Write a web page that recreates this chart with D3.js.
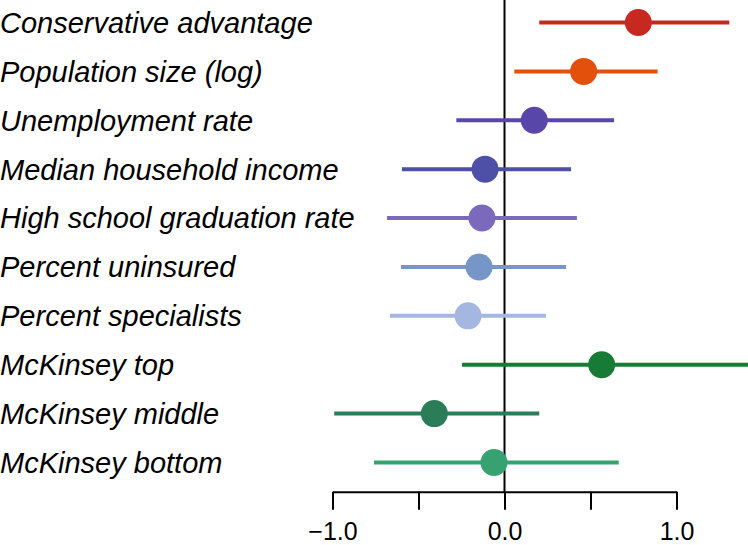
<!DOCTYPE html>
<html>
<head>
<meta charset="utf-8">
<script src="https://cdn.jsdelivr.net/npm/d3@7"></script>
<style>
  html, body { margin: 0; padding: 0; background: #fff; }
  svg { display: block; }
</style>
</head>
<body>
<svg id="chart" width="748" height="545"></svg>
<script>
const categories = [
  "Conservative advantage",
  "Population size (log)",
  "Unemployment rate",
  "Median household income",
  "High school graduation rate",
  "Percent uninsured",
  "Percent specialists",
  "McKinsey top",
  "McKinsey middle",
  "McKinsey bottom"
];
const estimates = [0.778, 0.46, 0.173, -0.113, -0.131, -0.148, -0.212, 0.565, -0.408, -0.061];
const lower     = [0.202, 0.057, -0.28, -0.596, -0.683, -0.602, -0.666, -0.247, -0.99, -0.759];
const upper     = [1.307, 0.89, 0.637, 0.387, 0.421, 0.358, 0.241, 1.43, 0.202, 0.664];
const colors = ["#c7281f", "#e2500b", "#5846a8", "#4e4fa6", "#7b69bb", "#7596c7", "#a3b7e0", "#177a35", "#2b7d5a", "#36a272"];
const tickValues = [-1, -0.5, 0, 0.5, 1];
const tickLabels = ["\u22121.0", "", "0.0", "", "1.0"];

const svg = d3.select("#chart");
const x = d3.scaleLinear().domain([-1, 1]).range([332.5, 676.5]);
const y = d3.scalePoint().domain(categories).range([22.5, 462.5]);
const axisY = 491.7;

const data = categories.map((c, i) => ({ c, est: estimates[i], lo: lower[i], hi: upper[i], col: colors[i] }));

// zero line
svg.append("line")
  .attr("x1", x(0)).attr("x2", x(0))
  .attr("y1", 0).attr("y2", axisY)
  .attr("stroke", "#000").attr("stroke-width", 2);

// labels
svg.append("g").selectAll("text").data(data).join("text")
  .attr("x", 0)
  .attr("y", d => y(d.c))
  .attr("dy", "0.36em")
  .attr("font-family", "'Liberation Sans', Arial, Helvetica, sans-serif")
  .attr("font-style", "italic")
  .attr("font-size", 29)
  .attr("fill", "#000")
  .text(d => d.c);

// CI lines
svg.append("g").selectAll("line").data(data).join("line")
  .attr("x1", d => x(d.lo)).attr("x2", d => x(d.hi))
  .attr("y1", d => y(d.c)).attr("y2", d => y(d.c))
  .attr("stroke", d => d.col).attr("stroke-width", 4);

// points
svg.append("g").selectAll("circle").data(data).join("circle")
  .attr("cx", d => x(d.est)).attr("cy", d => y(d.c))
  .attr("r", 13.5)
  .attr("fill", d => d.col);

// axis
const axis = d3.axisBottom(x)
  .tickValues(tickValues)
  .tickSize(18)
  .tickSizeOuter(0)
  .tickPadding(12.5)
  .tickFormat((d, i) => tickLabels[i]);
const gAxis = svg.append("g").attr("transform", `translate(0,${axisY})`).call(axis);
gAxis.select(".domain").attr("stroke-width", 2);
gAxis.selectAll(".tick line").attr("stroke-width", 2);
gAxis.selectAll(".tick text")
  .attr("font-family", "'Liberation Sans', Arial, Helvetica, sans-serif")
  .attr("font-size", 25)
  .attr("fill", "#000");
</script>
</body>
</html>
